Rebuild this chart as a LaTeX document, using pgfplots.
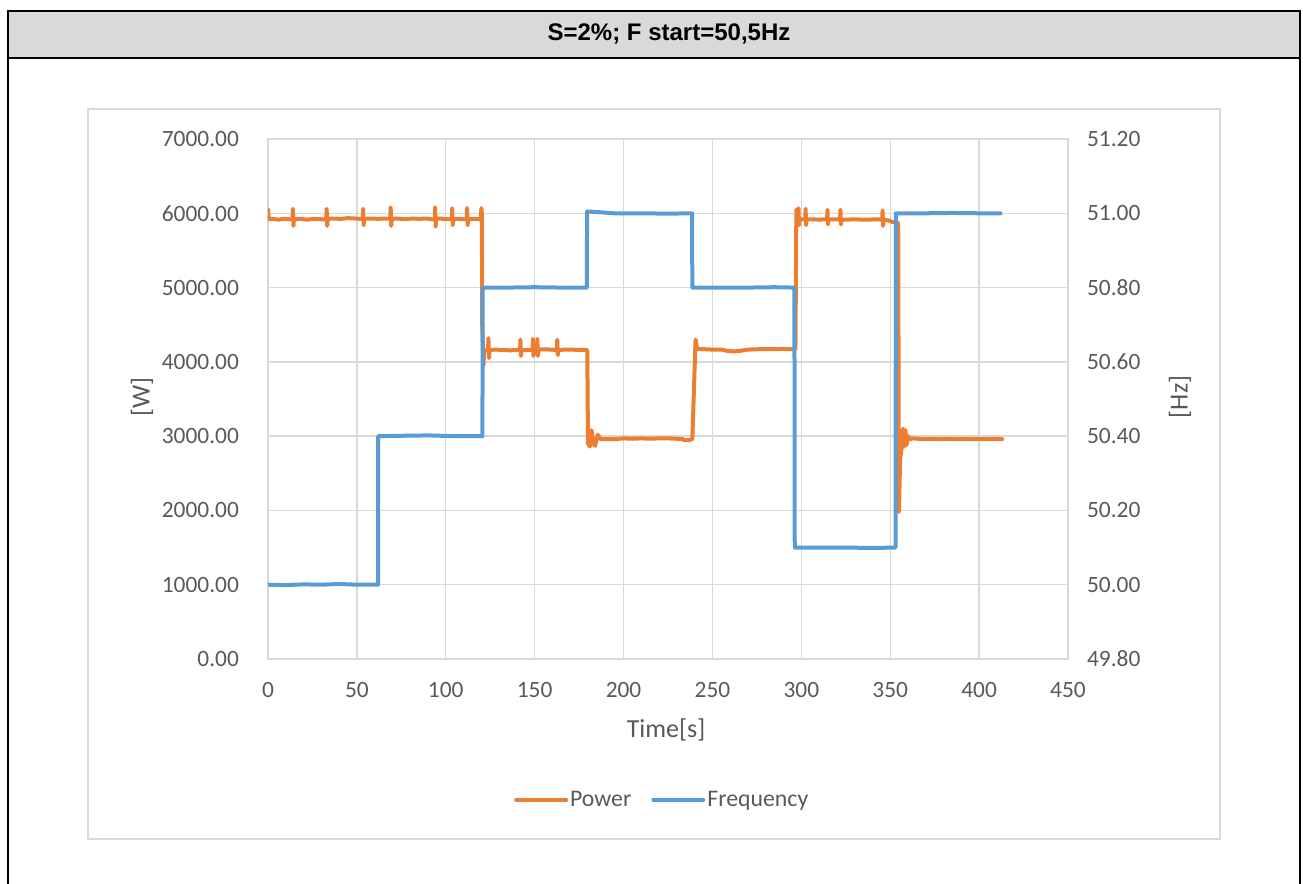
\documentclass[border=0pt]{standalone}
\usepackage{pgfplots}
\pgfplotsset{compat=1.18}
\usepackage{fontspec}
\setmainfont{Carlito}
\newfontfamily\arialfont{Liberation Sans}
\definecolor{pow}{HTML}{ED7D31}
\definecolor{frq}{HTML}{5B9BD5}
\definecolor{gridc}{HTML}{D9D9D9}
\definecolor{txt}{HTML}{595959}
\definecolor{titlebg}{HTML}{D9D9D9}
\pgfplotsset{
  commonax/.style={
    at={(134pt,-329.5pt)}, anchor=south west, scale only axis,
    width=400pt, height=260pt, xmin=0, xmax=450,
    major tick length=0pt,
    /pgf/number format/assume math mode=true,
    tick label style={text=txt, font=\fontsize{11.7}{14}\selectfont},
    label style={text=txt, font=\fontsize{13}{15}\selectfont},
    axis line style={gridc, line width=0.7pt},
  }
}
\begin{document}
\begin{tikzpicture}[x=0.5pt,y=-0.5pt]
\useasboundingbox (0,0) rectangle (1303,884);
\begin{scope}
\clip (0,0) rectangle (1303,884);
\fill[titlebg] (8,11) rectangle (1300,58);
\draw[line width=1.2pt] (8,900) -- (8,11) -- (1300,11) -- (1300,900);
\draw[line width=1.2pt] (8,58) -- (1300,58);
\end{scope}
\draw[gridc, line width=0.7pt] (88,109) rectangle (1220,839);
\node[font=\arialfont\bfseries\fontsize{12}{14}\selectfont] at (669,34) {S=2\%; F start=50,5Hz};

\begin{axis}[commonax,
  ymin=0, ymax=7000,
  xtick={0,50,...,450}, ytick={0,1000,...,7000},
  grid=major, major grid style={gridc, line width=0.7pt},
  yticklabel style={/pgf/number format/fixed, /pgf/number format/fixed zerofill, /pgf/number format/precision=2, /pgf/number format/1000 sep={}, xshift=-11pt},
  xticklabel style={yshift=-8pt},
  xlabel={Time[s]}, ylabel={[W]},
  xlabel style={at={(axis description cs:0.4975,-0.1365)}, anchor=center},
  ylabel style={at={(axis description cs:-0.1575,0.504)}, anchor=center},
]
\addplot[pow, line width=2pt, line join=round, line cap=round] coordinates {
(0,6050)(0.4,5930)(1,5920)(3,5925)(6,5915)(9,5925)(12,5920)
(13.8,5920)(14,6060)(14.3,5830)(14.6,5920)
(18,5925)(22,5915)(26,5925)(30,5920)
(32.8,5920)(33,6060)(33.3,5830)(33.6,5925)
(37,5930)(41,5925)(45,5935)(49,5930)(52,5925)
(53.3,5925)(53.5,6060)(53.8,5840)(54.1,5925)
(58,5930)(62,5925)(66,5930)(68.8,5925)
(69,6080)(69.3,5830)(69.6,5925)
(73,5930)(77,5920)(81,5930)(85,5925)(89,5930)(92,5920)(93.8,5920)
(94,6080)(94.3,5820)(94.6,5925)
(97,5930)(100,5920)(103.4,5925)
(103.6,6070)(103.9,5840)(104.2,5920)
(107,5925)(110,5920)(111.8,5925)(112,6070)(112.3,5840)(112.6,5920)
(116,5925)(119.8,5920)(120.0,6070)(120.3,6000)(120.5,4500)(121.2,3950)(121.6,4150)
(123,4160)(123.8,4160)(124,4320)(124.3,4050)(124.6,4160)
(128,4165)(132,4160)(136,4155)(140,4160)(141.8,4160)(142,4300)(142.3,4080)(142.6,4155)
(146,4160)(148.8,4160)(149,4310)(149.3,4080)(149.6,4155)(151.3,4160)(151.5,4310)(151.8,4080)(152.1,4165)
(156,4170)(159,4165)(162.5,4160)(162.7,4300)(163,4090)(163.3,4160)
(167,4165)(171,4165)(175,4160)(179.2,4160)(179.6,4150)
(180.0,2900)(181,2860)(182,3080)(183,2900)(184,2870)(185.5,3020)(187,2960)
(190,2960)(195,2960)(200,2970)(205,2965)(210,2970)(215,2965)(220,2970)(225,2970)(230,2965)(233,2965)(234,2945)(237,2945)(238,2955)(238.7,2960)
(240.5,4300)(241.2,4200)(241.6,4170)
(246,4170)(250,4165)(255,4165)(258,4150)(262,4140)(266,4150)(270,4165)(275,4170)(280,4170)(285,4170)(290,4175)(294,4170)(296.7,4170)
(297.2,6050)(297.7,5920)(298.2,5920)(298.4,6070)(298.7,5840)(299,5920)
(302.2,5920)(302.4,6060)(302.7,5840)(303,5915)
(306,5920)(310,5915)(314.5,5920)(314.7,6050)(315,5850)(315.3,5915)
(318,5920)(321.8,5920)(322,6050)(322.3,5850)(322.6,5915)
(326,5915)(330,5920)(334,5915)(338,5915)(342,5920)(345.5,5915)(345.7,6040)(346,5830)(346.3,5910)
(349,5905)(351,5885)(353.5,5875)(354.5,5870)
(354.9,1980)(355.6,2700)(356.5,2850)(357.2,3100)(357.9,2860)(358.6,3080)(359.2,2880)(360,3000)(361,2960)
(363,2970)(368,2960)(373,2965)(378,2960)(383,2965)(388,2960)(393,2965)(398,2960)(403,2960)(408,2965)(413,2960)
};
\end{axis}

\begin{axis}[commonax,
  ymin=49.8, ymax=51.2,
  axis y line*=right, axis x line=none,
  ytick={49.8,50.0,50.2,50.4,50.6,50.8,51.0,51.2},
  yticklabel style={/pgf/number format/fixed, /pgf/number format/fixed zerofill, /pgf/number format/precision=2, xshift=6pt},
  ylabel={[Hz]},
  ylabel style={at={(axis description cs:1.14,0.504)}, anchor=center},
  legend style={at={(axis description cs:0.494,-0.271)}, anchor=center, draw=none, fill=none,
    legend columns=-1, font=\fontsize{11.9}{14}\selectfont, text=txt,
    /tikz/every even column/.append style={column sep=8pt},
    /tikz/every odd column/.append style={column sep=-1pt}},
  legend image code/.code={\draw[#1, line cap=round] (0pt,0pt) -- (25pt,0pt);},
]
\addlegendimage{pow, line width=2pt}
\addlegendentry{Power}
\addplot[frq, line width=2pt, line join=round, line cap=round] coordinates {
(0,50.0)(10,49.999)(20,50.001)(30,50.0)(40,50.002)(50,50.0)(61.9,50.0)
(62.0,50.4)(75,50.401)(90,50.402)(105,50.4)(120.6,50.4)
(120.8,50.8)(135,50.8)(150,50.801)(165,50.8)(179.3,50.8)
(179.5,51.005)(195,51.0)(210,51.0)(225,50.999)(238.5,51.0)
(238.7,50.8)(255,50.8)(270,50.8)(285,50.801)(296.1,50.8)
(296.3,50.1)(310,50.1)(325,50.1)(340,50.099)(353,50.1)
(353.2,51.0)(370,51.0)(385,51.001)(400,51.0)(412,51.0)
};
\addlegendentry{Frequency}
\end{axis}
\end{tikzpicture}
\end{document}
